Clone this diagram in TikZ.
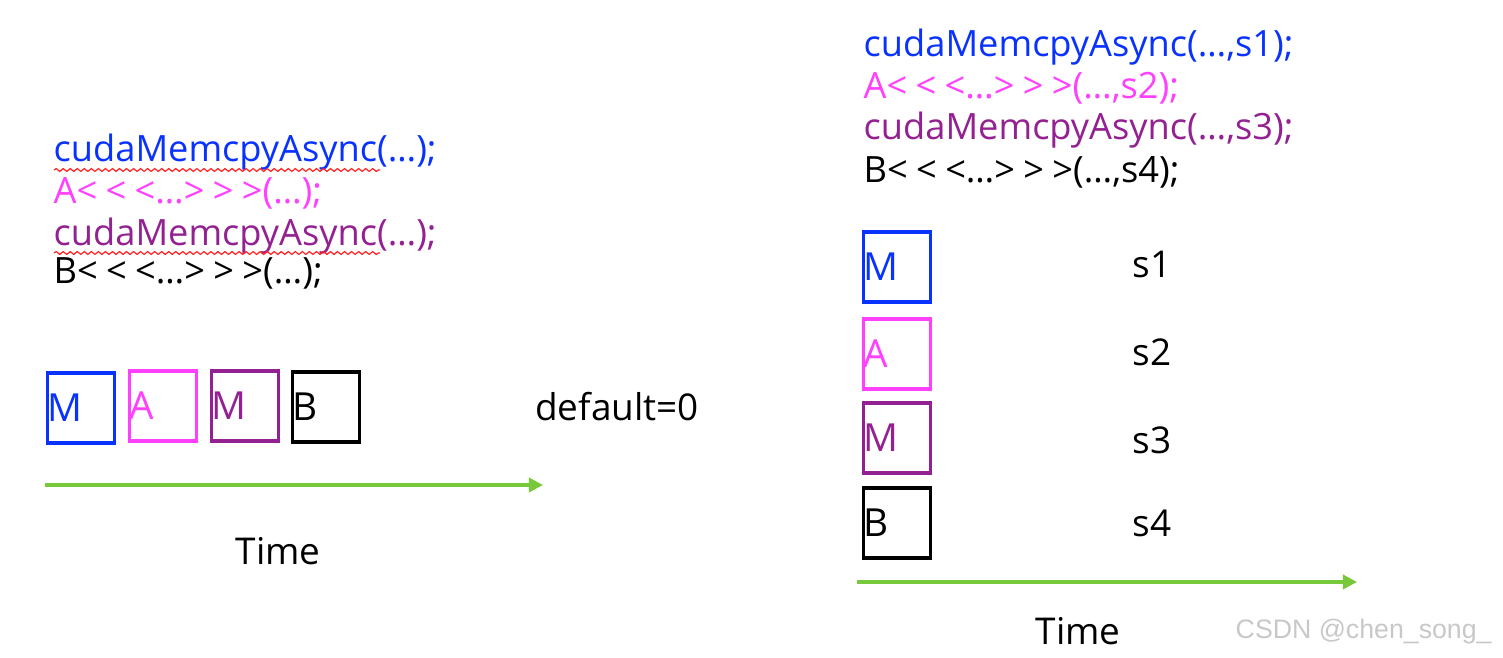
\documentclass[tikz,border=0pt]{standalone}
\usepackage{fontspec}
\setmainfont{Open Sans}
\newfontfamily\markfont{Liberation Sans}
\usetikzlibrary{arrows.meta, positioning, decorations.pathmorphing}
\definecolor{CudaBlue}{HTML}{0A32FF}
\definecolor{CudaPink}{HTML}{FF40FF}
\definecolor{CudaPurple}{HTML}{942192}
\definecolor{CudaBlack}{HTML}{000000}
\definecolor{TimeGreen}{HTML}{77C83A}
\definecolor{MarkGray}{HTML}{C8C8C8}
\newcommand{\lts}{\hspace{0.23em}}
\newcommand{\launch}{<\lts<\lts<…>\lts>\lts>}
\tikzset{
    codeline/.style={
        text=#1,
        anchor=west,
        inner sep=0pt,
        font=\fontsize{10.3}{12}\selectfont
    },
    codeline/.default=CudaBlack,
    opbox/.style={
        draw=#1,
        line width=1.1pt,
        text=#1,
        minimum width=0.67cm,
        minimum height=0.70cm,
        text width=0.67cm,
        align=left,
        inner sep=0pt,
        font=\fontsize{11}{13}\selectfont
    },
    opbox/.default=CudaBlack,
    plain/.style={
        inner sep=0pt,
        font=\fontsize{10.5}{12}\selectfont
    },
    timeline/.style={
        -{Triangle[length=4pt,width=4pt]},
        line width=1.2pt,
        TimeGreen
    },
    squiggle/.style={
        decorate,
        decoration={snake, amplitude=0.4pt, segment length=2pt},
        red!85,
        line width=0.35pt
    }
}
\begin{document}
\begin{tikzpicture}[x=0.01cm, y=-0.01cm]
        \useasboundingbox (0,0) rectangle (1503,658);

        % Default stream side
        \node[codeline=CudaBlue] (lc1) at (53,152) {cudaMemcpyAsync(…);};
        \node[codeline=CudaPink] (lc2) at (53,193) {A\launch(…);};
        \node[codeline=CudaPurple] (lc3) at (53,236) {cudaMemcpyAsync(…);};
        \node[codeline] (lc4) at (53,273) {B\launch(…);};
        \draw[squiggle] (54,170) -- (380,170);
        \draw[squiggle] (54,253) -- (380,253);

        \node[opbox=CudaBlue] (lm1) at (81,408) {M};
        \node[opbox=CudaPink] (la) at (163,406) {A};
        \node[opbox=CudaPurple] (lm2) at (245,406) {M};
        \node[opbox] (lb) at (326,407) {B};

        \coordinate (lt0) at (45,485);
        \coordinate (lt1) at (543,485);
        \draw[timeline] (lt0) -- (lt1);
        \node[plain] (ltime) at (278,551) {Time};
        \node[plain] (dflt) at (617,407) {default=0};

        % Multi stream side
        \node[codeline=CudaBlue] (rc1) at (863,47) {cudaMemcpyAsync(…,s1);};
        \node[codeline=CudaPink] (rc2) at (863,88) {A\launch(…,s2);};
        \node[codeline=CudaPurple] (rc3) at (863,130) {cudaMemcpyAsync(…,s3);};
        \node[codeline] (rc4) at (863,172) {B\launch(…,s4);};

        \node[opbox=CudaBlue] (rm1) at (897,267) {M};
        \node[opbox=CudaPink] (ra) at (897,354) {A};
        \node[opbox=CudaPurple] (rm2) at (897,438) {M};
        \node[opbox] (rb) at (897,523) {B};

        \node[plain] (s1) at (1152,265) {s1};
        \node[plain] (s2) at (1152,352) {s2};
        \node[plain] (s3) at (1152,440) {s3};
        \node[plain] (s4) at (1152,523) {s4};

        \coordinate (rt0) at (857,582);
        \coordinate (rt1) at (1357,582);
        \draw[timeline] (rt0) -- (rt1);
        \node[plain] (rtime) at (1078,631) {Time};

        % Watermark
        \node[anchor=west, inner sep=0pt, text=MarkGray, font=\markfont\fontsize{7.6}{9}\selectfont] (mark) at (1235,632) {CSDN @chen\_song\_};
    \end{tikzpicture}
\end{document}
